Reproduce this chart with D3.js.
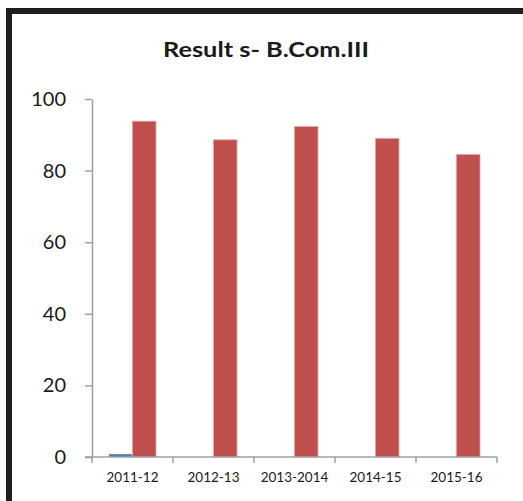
<!DOCTYPE html>
<html>
<head>
<meta charset="utf-8">
<script src="https://cdn.jsdelivr.net/npm/d3@7"></script>
<style>
  html, body { margin: 0; padding: 0; background: #fff; }
  svg { display: block; }
</style>
</head>
<body>
<svg id="chart" width="523" height="501"></svg>
<script>
const title = "Result s- B.Com.III";
const categories = ["2011-12", "2012-13", "2013-2014", "2014-15", "2015-16"];
const seriesBlue = [0.8, 0, 0, 0, 0];
const seriesRed = [93.8, 88.6, 92.3, 89.0, 84.5];
const yTicks = [0, 20, 40, 60, 80, 100];

const svg = d3.select("#chart");
const font = "Lato, 'Open Sans', sans-serif";

// outer frame
svg.append("rect")
  .attr("x", 9).attr("y", 11)
  .attr("width", 540).attr("height", 520)
  .attr("fill", "none").attr("stroke", "#1e1e1e").attr("stroke-width", 6);

const x0 = 92, x1 = 497, yTop = 99, yBase = 457;

const x = d3.scaleBand().domain(categories).range([x0, x1]).paddingInner(0).paddingOuter(0);
const y = d3.scaleLinear().domain([0, 100]).range([yBase, yTop]);
const sub = d3.scaleBand().domain(["blue", "red"]).range([0, 47]);
const groupOffset = (x.bandwidth() - 47) / 2;

// title
svg.append("text")
  .attr("x", 266).attr("y", 57)
  .attr("text-anchor", "middle")
  .attr("font-family", font).attr("font-weight", "bold")
  .attr("font-size", 21).attr("fill", "#1a1a1a")
  .attr("textLength", 206).attr("lengthAdjust", "spacingAndGlyphs")
  .text(title);

// y axis
const yAxis = svg.append("g")
  .attr("transform", `translate(${x0},0)`)
  .call(d3.axisLeft(y).tickValues(yTicks).tickSize(7).tickPadding(19).tickSizeOuter(0));
yAxis.select(".domain").attr("stroke", "#a0a0a0").attr("stroke-width", 1.5);
yAxis.selectAll(".tick line").attr("stroke", "#a0a0a0").attr("stroke-width", 1.5);
yAxis.selectAll(".tick text")
  .attr("font-family", font).attr("font-size", 20).attr("fill", "#1a1a1a");

// bars
const groups = svg.append("g").selectAll("g")
  .data(categories)
  .join("g")
  .attr("transform", d => `translate(${x(d) + groupOffset},0)`);

groups.append("rect")
  .attr("x", sub("blue"))
  .attr("width", sub.bandwidth())
  .attr("y", (d, i) => y(seriesBlue[i]))
  .attr("height", (d, i) => yBase - y(seriesBlue[i]))
  .attr("fill", "#4F81BD");

groups.append("rect")
  .attr("x", sub("red"))
  .attr("width", sub.bandwidth())
  .attr("y", (d, i) => y(seriesRed[i]))
  .attr("height", (d, i) => yBase - y(seriesRed[i]))
  .attr("fill", "#C0504D")
  .attr("stroke", "#e6a3a1").attr("stroke-width", 0.8);

// x axis
const xAxis = svg.append("g")
  .attr("transform", `translate(0,${yBase})`)
  .call(d3.axisBottom(x).tickSize(0).tickPadding(15));
xAxis.select(".domain").remove();
xAxis.append("line")
  .attr("x1", 85).attr("x2", x1).attr("y1", 0).attr("y2", 0)
  .attr("stroke", "#a0a0a0").attr("stroke-width", 1.5);
const boundaries = categories.map(c => x(c)).concat([x1]);
xAxis.selectAll(".bnd").data(boundaries).join("line")
  .attr("class", "bnd")
  .attr("x1", d => d).attr("x2", d => d)
  .attr("y1", 0).attr("y2", 6)
  .attr("stroke", "#a0a0a0").attr("stroke-width", 1.5);
xAxis.selectAll(".tick text")
  .attr("font-family", font).attr("font-size", 13.5).attr("fill", "#1a1a1a");
</script>
</body>
</html>
